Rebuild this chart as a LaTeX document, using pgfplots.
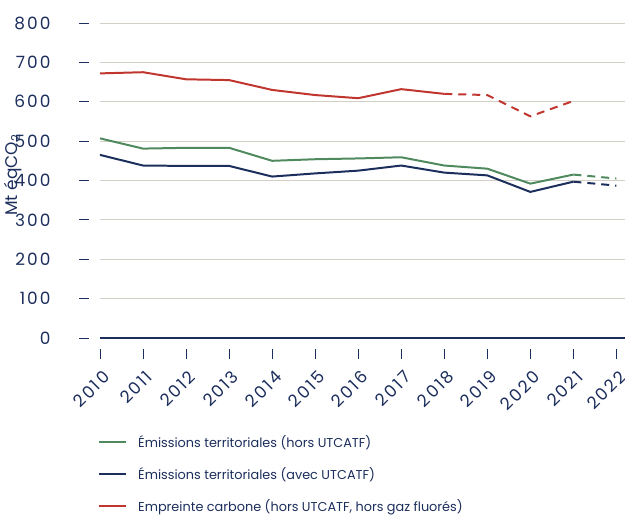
\documentclass[border=0pt]{standalone}
\usepackage{pgfplots}
\pgfplotsset{compat=1.18}
\usepackage{fontspec}
\setmainfont{Poppins}
\newfontfamily\tickfont[LetterSpace=12]{Poppins}
\definecolor{cgreen}{HTML}{4E8A5E}
\definecolor{cnavy}{HTML}{1C2E5C}
\definecolor{cred}{HTML}{C0352E}
\definecolor{cgrid}{HTML}{D3CFC4}
\begin{document}
\begin{tikzpicture}
\begin{axis}[
 name=ax,
 scale only axis, width=525bp, height=315bp,
 xmin=2010, xmax=2022.2, ymin=0, ymax=800,
 axis x line*=bottom, axis y line*=left,
 y axis line style={draw=none},
 x axis line style={draw=cnavy, line width=1.1pt, -},
 ytick={0,100,...,800},
 xtick={2010,...,2022},
 ymajorgrids, grid style={draw=cgrid, line width=0.9pt},
 tick align=outside,
 major tick length=21bp,
 every tick/.style={draw=cnavy, line width=0.9pt, dash pattern=on 10bp off 40bp},
 yticklabel style={font=\tickfont\fontsize{17}{19}\selectfont, text=cnavy, xshift=-25bp},
 xticklabel style={font=\tickfont\fontsize{17}{19}\selectfont, text=cnavy, rotate=45, anchor=east, yshift=-15bp, xshift=-2.5bp},
 /pgf/number format/assume math mode=true,
 /pgf/number format/set thousands separator={},
 ylabel={Mt éqCO\textsubscript{2}},
 ylabel shift=-14bp,
 ylabel style={font=\fontsize{17}{19}\selectfont, text=cnavy, at={(ticklabel cs:0.517)}},
 legend style={at={(0,-0.295)}, xshift=-5bp, anchor=north west, draw=none, fill=none,
   font=\fontsize{12.9}{15}\selectfont, text=cnavy, row sep=14.8bp},
 legend cell align=left,
 legend image code/.code={\draw[#1, line width=2pt] (0bp,0bp) -- (27bp,0bp); \path (36bp,0bp);},
]
\addplot[cgreen, line width=2pt] coordinates {(2010,507)(2011,481)(2012,483)(2013,483)(2014,450)(2015,454)(2016,456)(2017,459)(2018,438)(2019,430)(2020,392)(2021,415)};
\addlegendentry{Émissions territoriales (hors UTCATF)}
\addplot[cnavy, line width=2pt] coordinates {(2010,465)(2011,438)(2012,437)(2013,437)(2014,410)(2015,418)(2016,425)(2017,438)(2018,420)(2019,413)(2020,371)(2021,397)};
\addlegendentry{Émissions territoriales (avec UTCATF)}
\addplot[cred, line width=2pt] coordinates {(2010,672)(2011,675)(2012,657)(2013,655)(2014,630)(2015,617)(2016,609)(2017,632)(2018,620)};
\addlegendentry{Empreinte carbone (hors UTCATF, hors gaz fluorés)}
\addplot[cred, line width=2pt, dash pattern=on 8bp off 6bp, forget plot] coordinates {(2018,620)(2019,617)(2020,563)(2021,602)};
\addplot[cgreen, line width=2pt, dash pattern=on 8bp off 6bp, forget plot] coordinates {(2021,415)(2022,405)};
\addplot[cnavy, line width=2pt, dash pattern=on 8bp off 6bp, forget plot] coordinates {(2021,397)(2022,387)};
\end{axis}
\pgfresetboundingbox
\path[use as bounding box] ([shift={(-100bp,-178bp)}]ax.south west) rectangle ([shift={(0bp,23bp)}]ax.north east);
\end{tikzpicture}
\end{document}
